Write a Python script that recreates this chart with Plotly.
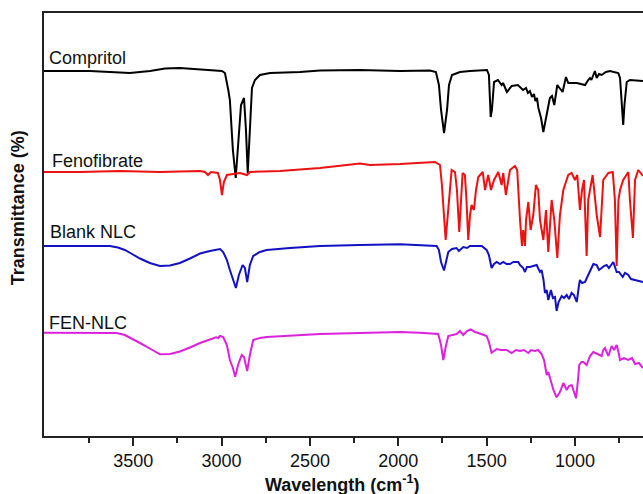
import plotly.graph_objects as go

# Wavenumbers (cm^-1) and transmittance (arbitrary offset units)
comp_wn = [4005, 3885, 3745, 3632, 3519, 3405, 3320, 3236, 3122, 3038, 2998, 2981, 2970, 2962, 2953, 2936, 2920, 2907, 2890,
           2873, 2862, 2852, 2839, 2828, 2811, 2783, 2726, 2556, 2443, 2217, 1990, 1821, 1787, 1770, 1758,
           1741, 1724, 1713, 1696, 1651, 1594, 1498, 1487, 1477, 1470, 1458, 1436, 1415, 1407, 1385, 1358,
           1323, 1294, 1277, 1266, 1255, 1243, 1232, 1224, 1215, 1207, 1192, 1179, 1164, 1153, 1142, 1130,
           1117, 1100, 1085, 1070, 1051, 1038, 990, 943, 925, 915, 907, 896, 887, 877, 864, 849, 825, 802,
           755, 745, 740, 727, 720, 707, 689, 615]
comp_t = [366, 366, 366, 365, 364, 366, 368.5, 369, 367.5, 366, 366, 364, 355, 347, 337, 287, 259, 287, 332,
          339, 307, 264, 317, 349, 357, 362, 364, 365, 366.5, 367, 366, 366.5, 365, 352, 327,
          304, 327, 352, 362, 365, 366, 367, 362, 320, 327, 355, 357, 352, 354, 345, 351,
          352, 347, 349, 344, 346, 340, 343, 336, 339, 329, 319, 305, 319, 327, 339, 341,
          332, 352, 349, 345, 360, 354, 354, 352, 357, 359, 357, 362, 366, 359, 363, 362, 365, 366,
          364, 359, 347, 312, 332, 355, 357, 356]

feno_wn = [4005, 3802, 3575, 3349, 3122, 3094, 3077, 3060, 3021, 3009, 2998, 2987, 2970, 2924, 2896, 2856,
           2840, 2670, 2443, 2217, 2160, 1990, 1877, 1792, 1764, 1753, 1732, 1719, 1698, 1679, 1668, 1655,
           1645, 1636, 1623, 1614, 1604, 1594, 1585, 1572, 1560, 1547, 1522, 1509, 1491, 1475, 1458, 1434,
           1415, 1406, 1391, 1368, 1340, 1327, 1311, 1300, 1293, 1283, 1277, 1264, 1251, 1236, 1221, 1208,
           1198, 1179, 1164, 1151, 1132, 1117, 1100, 1085, 1066, 1038, 1019, 1000, 987, 972, 960, 949,
           934, 925, 900, 877, 858, 840, 811, 786, 774, 764, 754, 745, 727, 698, 689, 672, 660, 642, 615]
feno_t = [265, 265, 266, 265, 266, 265, 262, 265, 264, 257, 242, 255, 262, 263, 264, 262,
          265, 266, 269, 273.5, 272, 273, 274, 275, 272, 252, 197, 227, 267, 265, 247, 205,
          237, 264, 262, 237, 197, 222, 232, 227, 247, 260, 265, 247, 262, 247, 257, 265,
          252, 264, 242, 267, 271, 267, 217, 191, 207, 191, 217, 235, 207, 222, 252, 247,
          217, 197, 227, 185, 237, 217, 179, 222, 247, 262, 264, 257, 262, 227, 247, 257,
          181, 237, 262, 222, 200, 257, 264, 265, 237, 171, 237, 247, 257, 265, 237, 199, 257, 267, 261]

blank_wn = [4005, 3632, 3587, 3547, 3507, 3462, 3406, 3349, 3292, 3236, 3179, 3122, 3066, 3028, 3009, 2991,
            2970, 2953, 2936, 2919, 2902, 2881,
            2868, 2855, 2840, 2821, 2783, 2745, 2613, 2443, 2217, 1990, 1783, 1770, 1758, 1741, 1730, 1717,
            1696, 1670, 1657, 1632, 1611, 1594, 1528, 1500, 1487, 1472, 1458, 1443, 1424, 1406, 1387, 1368,
            1349, 1321, 1311, 1293, 1283, 1272, 1255, 1236, 1217, 1198, 1189, 1178, 1170, 1160, 1151, 1136,
            1125, 1113, 1104, 1093, 1075, 1062, 1047, 1034, 1019, 1006, 990, 977, 972, 960, 943, 925,
            905, 896, 877, 864, 849, 836, 821, 808, 783, 774, 764, 751, 730, 717, 698, 683, 660, 638, 615]
blank_t = [191, 191, 189.5, 187, 183, 178.5, 174, 171, 171.5, 174, 178.5, 183.5, 186, 187, 188, 185,
           177, 167, 157, 149, 162, 172,
           169, 155, 172, 181, 185, 187, 189, 191, 192, 192.7, 191, 187, 175, 166.5, 175, 185,
           188, 189, 186, 190, 189, 191, 191, 187, 182, 169, 173, 175, 173, 175, 173, 173,
           175, 175, 172, 169, 165, 170, 170, 171, 172, 165, 167, 157, 144, 147, 137, 147,
           139, 140, 126, 135, 141, 139, 142, 138, 144, 142, 135, 152, 157, 154, 155, 162,
           169, 173, 172, 167, 169, 171, 172, 169, 175, 171, 165, 165, 160, 164, 162, 158, 157, 156, 155]

fen_wn = [4005, 3594, 3547, 3507, 3462, 3406, 3349, 3292, 3236, 3179, 3122, 3066, 3032, 3019, 3009, 2991,
          2970, 2953, 2936, 2923, 2907,
          2886, 2873, 2855, 2840, 2821, 2783, 2745, 2443, 2217, 1990, 1877, 1774, 1758, 1745, 1733, 1717,
          1670, 1651, 1632, 1611, 1590, 1566, 1547, 1500, 1487, 1472, 1443, 1419, 1387, 1358, 1334, 1311,
          1289, 1264, 1249, 1226, 1209, 1189, 1175, 1160, 1151, 1142, 1132, 1122, 1104, 1085, 1066, 1047,
          1034, 1019, 1009, 994, 983, 976, 963, 953, 934, 915, 896, 875, 849, 840, 830, 811,
          792, 779, 764, 754, 745, 723, 698, 677, 660, 638, 615]
fen_t = [104.3, 104, 102, 98.5, 94, 88.5, 82.7, 83, 85.5, 89.5, 94, 97.5, 99.7, 99, 101, 100,
         92, 77, 69, 60.3, 72,
         82, 80, 66, 82, 97, 99, 100, 103, 104, 105, 104.3, 103, 92, 77, 89, 101,
         103, 106, 102, 106, 107.7, 105, 104, 101, 95, 84.3, 88, 87, 87, 84, 87, 86,
         87, 84, 87, 86, 87, 83, 77, 62, 65, 59, 52, 47, 39.7, 45, 54, 47,
         51, 52, 47, 38.7, 57, 72, 75, 75, 72, 81, 85, 83, 81, 87, 89, 81,
         91, 87, 92, 85, 77, 79, 77, 79, 73, 74, 69]

x_ticks = [3500, 3000, 2500, 2000, 1500, 1000]
x_minor = [3750, 3250, 2750, 2250, 1750, 1250, 750]
labels = ["Compritol", "Fenofibrate", "Blank NLC", "FEN-NLC"]
colors = ["#000000", "#ee1111", "#1212c4", "#dd22dd"]

fig = go.Figure()
for wn, t, c, name in zip([comp_wn, feno_wn, blank_wn, fen_wn],
                          [comp_t, feno_t, blank_t, fen_t], colors, labels):
    fig.add_trace(go.Scatter(x=wn, y=t, mode="lines", name=name,
                             line=dict(color=c, width=2), showlegend=False))

label_pos = [(0.005, 0.894), (0.010, 0.650), (0.007, 0.482), (0.005, 0.268)]
for (px, py), txt in zip(label_pos, labels):
    fig.add_annotation(text=txt, xref="paper", yref="paper", x=px, y=py,
                       xanchor="left", yanchor="middle", showarrow=False,
                       font=dict(size=18, color="#111111"))

fig.add_annotation(text="<b>Wavelength (cm<sup>-1</sup>)</b>", xref="paper", yref="paper",
                   x=0.499, y=-0.113, xanchor="center", yanchor="middle", showarrow=False,
                   font=dict(size=18, color="#111111"))
fig.add_annotation(text="<b>Transmittance (%)</b>", xref="paper", yref="paper",
                   x=-0.044, y=0.54, xanchor="center", yanchor="middle", showarrow=False,
                   textangle=-90, font=dict(size=18, color="#111111"))

fig.update_xaxes(range=[4005, 615], tickvals=x_ticks, ticks="outside", ticklen=8, tickwidth=1.5,
                 tickcolor="#222222", showline=True, linecolor="#222222", linewidth=1.5, mirror=True,
                 showgrid=False, zeroline=False, tickfont=dict(size=18, color="#111111"),
                 minor=dict(tickvals=x_minor, ticks="outside",
                            ticklen=5, tickwidth=1.5, tickcolor="#222222", showgrid=False))
fig.update_yaxes(range=[1, 424], showticklabels=False, ticks="", showline=True, linecolor="#222222",
                 linewidth=1.5, showgrid=False, zeroline=False)

fig.update_layout(width=643, height=494, margin=dict(l=44, r=0, t=13, b=58),
                  plot_bgcolor="white", paper_bgcolor="white",
                  font=dict(family="Liberation Sans, Arial, sans-serif"))
fig.write_html("out.html", config={"displayModeBar": False},
               post_script="document.body.style.margin='0';document.body.style.overflow='hidden';")
